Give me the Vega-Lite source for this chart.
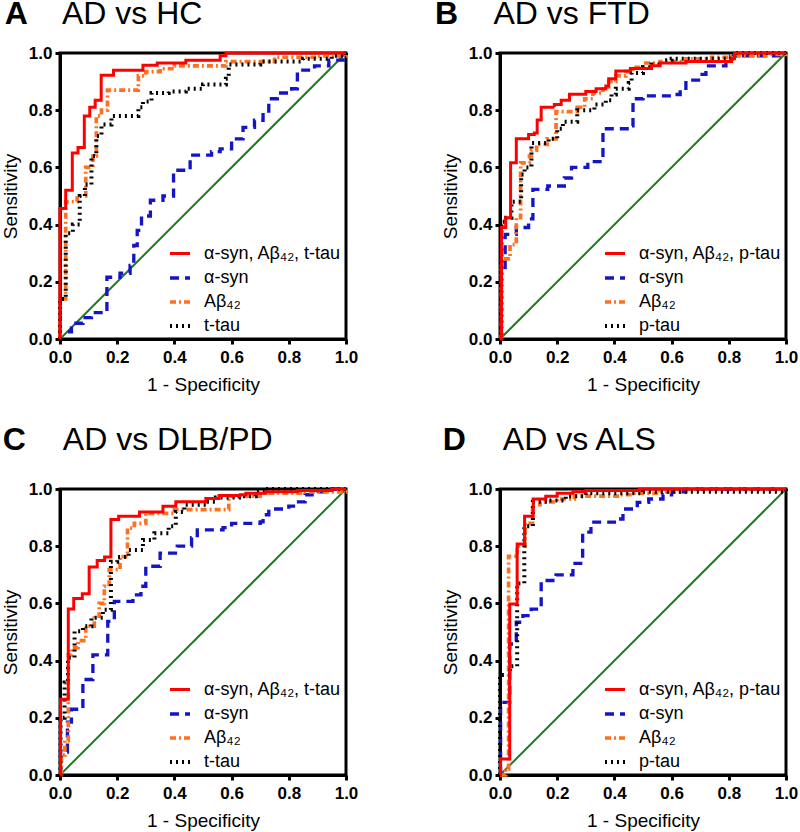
{
  "$schema": "https://vega.github.io/schema/vega-lite/v6.json",
  "padding": {"left": -1, "top": -4, "right": 0, "bottom": 0},
  "background": "white",
  "config": {
    "font": "Liberation Sans",
    "view": {"stroke": "black", "strokeWidth": 3},
    "axis": {
      "grid": false, "domainColor": "black", "domainWidth": 3,
      "tickColor": "black", "tickWidth": 3, "tickSize": 5,
      "labelFont": "Liberation Sans", "labelFontWeight": "bold", "labelFontSize": 17, "labelColor": "black",
      "labelPadding": 3, "labelFlush": false, "labelOverlap": false,
      "titleFont": "Liberation Sans", "titleFontWeight": "normal", "titleFontSize": 19, "titleColor": "black"
    },
    "axisX": {"titlePadding": 10, "labelPadding": 5},
    "axisY": {"titlePadding": 8},
    "legend": {
      "orient": "bottom-right", "offset": 4, "padding": 0, "rowPadding": 3,
      "labelFont": "Liberation Sans", "labelFontSize": 18, "labelColor": "black", "labelLimit": 300,
      "symbolType": "stroke", "symbolSize": 400, "labelOffset": 12
    },
    "text": {"font": "Liberation Sans", "fontSize": 32, "align": "left", "baseline": "top", "color": "black"}
  },
  "resolve": {
    "scale": {"color": "independent", "strokeDash": "independent", "strokeWidth": "independent", "x": "independent", "y": "independent"},
    "legend": {"color": "independent", "strokeDash": "independent", "strokeWidth": "independent"}
  },
  "columns": 2,
  "spacing": {"column": 154, "row": 150},
  "bounds": "flush",
  "concat": [
    {
      "width": 286, "height": 286,
      "layer": [
        {"data": {"values": [{}]}, "mark": {"type": "rule", "color": "#1e7d1e", "strokeWidth": 2},
         "encoding": {"x": {"datum": 0, "type": "quantitative", "title": "1 - Specificity"}, "y": {"datum": 0, "type": "quantitative", "title": "Sensitivity"}, "x2": {"datum": 1}, "y2": {"datum": 1}}},
        {"data": {"values": [
          {"s":"α-syn","x":0,"y":0},{"s":"α-syn","x":0,"y":0.025},{"s":"α-syn","x":0.04,"y":0.055},{"s":"α-syn","x":0.08,"y":0.075},{"s":"α-syn","x":0.11,"y":0.092},{"s":"α-syn","x":0.164,"y":0.216},{"s":"α-syn","x":0.21,"y":0.23},{"s":"α-syn","x":0.245,"y":0.257},{"s":"α-syn","x":0.258,"y":0.327},{"s":"α-syn","x":0.27,"y":0.38},{"s":"α-syn","x":0.285,"y":0.43},{"s":"α-syn","x":0.316,"y":0.485},{"s":"α-syn","x":0.36,"y":0.5},{"s":"α-syn","x":0.397,"y":0.59},{"s":"α-syn","x":0.455,"y":0.643},{"s":"α-syn","x":0.53,"y":0.655},{"s":"α-syn","x":0.56,"y":0.665},{"s":"α-syn","x":0.6,"y":0.7},{"s":"α-syn","x":0.64,"y":0.74},{"s":"α-syn","x":0.68,"y":0.765},{"s":"α-syn","x":0.71,"y":0.79},{"s":"α-syn","x":0.73,"y":0.84},{"s":"α-syn","x":0.76,"y":0.86},{"s":"α-syn","x":0.81,"y":0.875},{"s":"α-syn","x":0.83,"y":0.94},{"s":"α-syn","x":0.89,"y":0.955},{"s":"α-syn","x":0.94,"y":0.975},{"s":"α-syn","x":0.99,"y":1},{"s":"α-syn","x":1,"y":1},
          {"s":"Aβ₄₂","x":0,"y":0},{"s":"Aβ₄₂","x":0,"y":0.14},{"s":"Aβ₄₂","x":0.02,"y":0.48},{"s":"Aβ₄₂","x":0.06,"y":0.5},{"s":"Aβ₄₂","x":0.09,"y":0.6},{"s":"Aβ₄₂","x":0.115,"y":0.64},{"s":"Aβ₄₂","x":0.127,"y":0.78},{"s":"Aβ₄₂","x":0.145,"y":0.8},{"s":"Aβ₄₂","x":0.166,"y":0.87},{"s":"Aβ₄₂","x":0.274,"y":0.92},{"s":"Aβ₄₂","x":0.3,"y":0.935},{"s":"Aβ₄₂","x":0.35,"y":0.945},{"s":"Aβ₄₂","x":0.4,"y":0.955},{"s":"Aβ₄₂","x":0.58,"y":0.97},{"s":"Aβ₄₂","x":0.75,"y":0.985},{"s":"Aβ₄₂","x":0.9,"y":0.99},{"s":"Aβ₄₂","x":1,"y":1},
          {"s":"t-tau","x":0,"y":0},{"s":"t-tau","x":0,"y":0.14},{"s":"t-tau","x":0.02,"y":0.37},{"s":"t-tau","x":0.045,"y":0.4},{"s":"t-tau","x":0.069,"y":0.5},{"s":"t-tau","x":0.087,"y":0.54},{"s":"t-tau","x":0.11,"y":0.64},{"s":"t-tau","x":0.127,"y":0.71},{"s":"t-tau","x":0.145,"y":0.75},{"s":"t-tau","x":0.18,"y":0.78},{"s":"t-tau","x":0.274,"y":0.81},{"s":"t-tau","x":0.29,"y":0.83},{"s":"t-tau","x":0.32,"y":0.86},{"s":"t-tau","x":0.38,"y":0.865},{"s":"t-tau","x":0.44,"y":0.875},{"s":"t-tau","x":0.5,"y":0.89},{"s":"t-tau","x":0.58,"y":0.91},{"s":"t-tau","x":0.59,"y":0.96},{"s":"t-tau","x":0.7,"y":0.97},{"s":"t-tau","x":0.85,"y":0.98},{"s":"t-tau","x":0.95,"y":0.99},{"s":"t-tau","x":1,"y":1},
          {"s":"α-syn, Aβ₄₂, t-tau","x":0,"y":0},{"s":"α-syn, Aβ₄₂, t-tau","x":0,"y":0.456},{"s":"α-syn, Aβ₄₂, t-tau","x":0.02,"y":0.52},{"s":"α-syn, Aβ₄₂, t-tau","x":0.043,"y":0.65},{"s":"α-syn, Aβ₄₂, t-tau","x":0.063,"y":0.67},{"s":"α-syn, Aβ₄₂, t-tau","x":0.085,"y":0.78},{"s":"α-syn, Aβ₄₂, t-tau","x":0.104,"y":0.81},{"s":"α-syn, Aβ₄₂, t-tau","x":0.123,"y":0.835},{"s":"α-syn, Aβ₄₂, t-tau","x":0.144,"y":0.922},{"s":"α-syn, Aβ₄₂, t-tau","x":0.187,"y":0.94},{"s":"α-syn, Aβ₄₂, t-tau","x":0.29,"y":0.957},{"s":"α-syn, Aβ₄₂, t-tau","x":0.34,"y":0.965},{"s":"α-syn, Aβ₄₂, t-tau","x":0.44,"y":0.975},{"s":"α-syn, Aβ₄₂, t-tau","x":0.56,"y":0.99},{"s":"α-syn, Aβ₄₂, t-tau","x":0.58,"y":1},{"s":"α-syn, Aβ₄₂, t-tau","x":1,"y":1}
        ]},
         "mark": {"type": "line", "interpolate": "step-after"},
         "encoding": {
           "x": {"field": "x", "type": "quantitative", "title": "1 - Specificity", "scale": {"domain": [0, 1], "nice": false}, "axis": {"values": [0, 0.2, 0.4, 0.6, 0.8, 1], "format": ".1f"}},
           "y": {"field": "y", "type": "quantitative", "title": "Sensitivity", "scale": {"domain": [0, 1], "nice": false}, "axis": {"values": [0, 0.2, 0.4, 0.6, 0.8, 1], "format": ".1f"}},
           "order": [{"field": "x", "type": "quantitative"}, {"field": "y", "type": "quantitative"}],
           "color": {"field": "s", "type": "ordinal", "title": null, "scale": {"domain": ["α-syn, Aβ₄₂, t-tau", "α-syn", "Aβ₄₂", "t-tau"], "range": ["#ff0000", "#1515c8", "#ff7020", "#000000"]}},
           "strokeDash": {"field": "s", "type": "ordinal", "title": null, "scale": {"domain": ["α-syn, Aβ₄₂, t-tau", "α-syn", "Aβ₄₂", "t-tau"], "range": [[1, 0], [9, 6], [6, 3, 2, 3], [2, 4]]}},
           "strokeWidth": {"field": "s", "type": "ordinal", "title": null, "scale": {"domain": ["α-syn, Aβ₄₂, t-tau", "α-syn", "Aβ₄₂", "t-tau"], "range": [3, 4, 2, 2]}}
         }},
        {"data": {"values": [{}]}, "mark": {"type": "text", "text": "A", "fontWeight": "bold"},
         "encoding": {"x": {"datum": -0.193, "type": "quantitative", "title": "1 - Specificity"}, "y": {"datum": 1.1888, "type": "quantitative", "title": "Sensitivity"}}},
        {"data": {"values": [{}]}, "mark": {"type": "text", "text": "AD vs HC"},
         "encoding": {"x": {"datum": 0.007, "type": "quantitative", "title": "1 - Specificity"}, "y": {"datum": 1.1888, "type": "quantitative", "title": "Sensitivity"}}}
      ]
    },
    {
      "width": 286, "height": 286,
      "layer": [
        {"data": {"values": [{}]}, "mark": {"type": "rule", "color": "#1e7d1e", "strokeWidth": 2},
         "encoding": {"x": {"datum": 0, "type": "quantitative", "title": "1 - Specificity"}, "y": {"datum": 0, "type": "quantitative", "title": "Sensitivity"}, "x2": {"datum": 1}, "y2": {"datum": 1}}},
        {"data": {"values": [
          {"s":"α-syn","x":0,"y":0},{"s":"α-syn","x":0.003,"y":0.238},{"s":"α-syn","x":0.018,"y":0.366},{"s":"α-syn","x":0.057,"y":0.39},{"s":"α-syn","x":0.1,"y":0.42},{"s":"α-syn","x":0.115,"y":0.523},{"s":"α-syn","x":0.167,"y":0.535},{"s":"α-syn","x":0.225,"y":0.563},{"s":"α-syn","x":0.25,"y":0.6},{"s":"α-syn","x":0.307,"y":0.62},{"s":"α-syn","x":0.36,"y":0.735},{"s":"α-syn","x":0.457,"y":0.745},{"s":"α-syn","x":0.465,"y":0.84},{"s":"α-syn","x":0.5,"y":0.85},{"s":"α-syn","x":0.6,"y":0.855},{"s":"α-syn","x":0.63,"y":0.87},{"s":"α-syn","x":0.65,"y":0.905},{"s":"α-syn","x":0.7,"y":0.925},{"s":"α-syn","x":0.72,"y":0.955},{"s":"α-syn","x":0.79,"y":0.97},{"s":"α-syn","x":0.806,"y":0.99},{"s":"α-syn","x":1,"y":1},
          {"s":"Aβ₄₂","x":0,"y":0},{"s":"Aβ₄₂","x":0.005,"y":0.28},{"s":"Aβ₄₂","x":0.035,"y":0.33},{"s":"Aβ₄₂","x":0.057,"y":0.424},{"s":"Aβ₄₂","x":0.072,"y":0.616},{"s":"Aβ₄₂","x":0.103,"y":0.64},{"s":"Aβ₄₂","x":0.11,"y":0.66},{"s":"Aβ₄₂","x":0.128,"y":0.68},{"s":"Aβ₄₂","x":0.165,"y":0.7},{"s":"Aβ₄₂","x":0.196,"y":0.795},{"s":"Aβ₄₂","x":0.27,"y":0.81},{"s":"Aβ₄₂","x":0.296,"y":0.84},{"s":"Aβ₄₂","x":0.325,"y":0.86},{"s":"Aβ₄₂","x":0.36,"y":0.875},{"s":"Aβ₄₂","x":0.38,"y":0.9},{"s":"Aβ₄₂","x":0.405,"y":0.92},{"s":"Aβ₄₂","x":0.44,"y":0.935},{"s":"Aβ₄₂","x":0.465,"y":0.95},{"s":"Aβ₄₂","x":0.5,"y":0.965},{"s":"Aβ₄₂","x":0.56,"y":0.97},{"s":"Aβ₄₂","x":0.65,"y":0.98},{"s":"Aβ₄₂","x":0.74,"y":0.985},{"s":"Aβ₄₂","x":0.81,"y":0.99},{"s":"Aβ₄₂","x":0.93,"y":0.995},{"s":"Aβ₄₂","x":1,"y":1},
          {"s":"p-tau","x":0,"y":0},{"s":"p-tau","x":0.005,"y":0.41},{"s":"p-tau","x":0.022,"y":0.424},{"s":"p-tau","x":0.04,"y":0.48},{"s":"p-tau","x":0.074,"y":0.575},{"s":"p-tau","x":0.086,"y":0.6},{"s":"p-tau","x":0.11,"y":0.685},{"s":"p-tau","x":0.17,"y":0.7},{"s":"p-tau","x":0.2,"y":0.735},{"s":"p-tau","x":0.22,"y":0.76},{"s":"p-tau","x":0.27,"y":0.8},{"s":"p-tau","x":0.33,"y":0.82},{"s":"p-tau","x":0.37,"y":0.835},{"s":"p-tau","x":0.39,"y":0.855},{"s":"p-tau","x":0.405,"y":0.875},{"s":"p-tau","x":0.45,"y":0.895},{"s":"p-tau","x":0.46,"y":0.93},{"s":"p-tau","x":0.5,"y":0.95},{"s":"p-tau","x":0.53,"y":0.96},{"s":"p-tau","x":0.57,"y":0.975},{"s":"p-tau","x":0.6,"y":0.98},{"s":"p-tau","x":0.81,"y":0.99},{"s":"p-tau","x":0.82,"y":1},{"s":"p-tau","x":1,"y":1},
          {"s":"α-syn, Aβ₄₂, p-tau","x":0,"y":0},{"s":"α-syn, Aβ₄₂, p-tau","x":0.005,"y":0.39},{"s":"α-syn, Aβ₄₂, p-tau","x":0.02,"y":0.424},{"s":"α-syn, Aβ₄₂, p-tau","x":0.037,"y":0.616},{"s":"α-syn, Aβ₄₂, p-tau","x":0.057,"y":0.7},{"s":"α-syn, Aβ₄₂, p-tau","x":0.1,"y":0.715},{"s":"α-syn, Aβ₄₂, p-tau","x":0.12,"y":0.72},{"s":"α-syn, Aβ₄₂, p-tau","x":0.13,"y":0.766},{"s":"α-syn, Aβ₄₂, p-tau","x":0.144,"y":0.81},{"s":"α-syn, Aβ₄₂, p-tau","x":0.19,"y":0.82},{"s":"α-syn, Aβ₄₂, p-tau","x":0.214,"y":0.835},{"s":"α-syn, Aβ₄₂, p-tau","x":0.243,"y":0.856},{"s":"α-syn, Aβ₄₂, p-tau","x":0.3,"y":0.865},{"s":"α-syn, Aβ₄₂, p-tau","x":0.336,"y":0.875},{"s":"α-syn, Aβ₄₂, p-tau","x":0.37,"y":0.885},{"s":"α-syn, Aβ₄₂, p-tau","x":0.38,"y":0.91},{"s":"α-syn, Aβ₄₂, p-tau","x":0.405,"y":0.937},{"s":"α-syn, Aβ₄₂, p-tau","x":0.456,"y":0.946},{"s":"α-syn, Aβ₄₂, p-tau","x":0.53,"y":0.955},{"s":"α-syn, Aβ₄₂, p-tau","x":0.56,"y":0.965},{"s":"α-syn, Aβ₄₂, p-tau","x":0.65,"y":0.97},{"s":"α-syn, Aβ₄₂, p-tau","x":0.81,"y":0.98},{"s":"α-syn, Aβ₄₂, p-tau","x":0.82,"y":1},{"s":"α-syn, Aβ₄₂, p-tau","x":1,"y":1}
        ]},
         "mark": {"type": "line", "interpolate": "step-after"},
         "encoding": {
           "x": {"field": "x", "type": "quantitative", "title": "1 - Specificity", "scale": {"domain": [0, 1], "nice": false}, "axis": {"values": [0, 0.2, 0.4, 0.6, 0.8, 1], "format": ".1f"}},
           "y": {"field": "y", "type": "quantitative", "title": "Sensitivity", "scale": {"domain": [0, 1], "nice": false}, "axis": {"values": [0, 0.2, 0.4, 0.6, 0.8, 1], "format": ".1f"}},
           "order": [{"field": "x", "type": "quantitative"}, {"field": "y", "type": "quantitative"}],
           "color": {"field": "s", "type": "ordinal", "title": null, "scale": {"domain": ["α-syn, Aβ₄₂, p-tau", "α-syn", "Aβ₄₂", "p-tau"], "range": ["#ff0000", "#1515c8", "#ff7020", "#000000"]}},
           "strokeDash": {"field": "s", "type": "ordinal", "title": null, "scale": {"domain": ["α-syn, Aβ₄₂, p-tau", "α-syn", "Aβ₄₂", "p-tau"], "range": [[1, 0], [9, 6], [6, 3, 2, 3], [2, 4]]}},
           "strokeWidth": {"field": "s", "type": "ordinal", "title": null, "scale": {"domain": ["α-syn, Aβ₄₂, p-tau", "α-syn", "Aβ₄₂", "p-tau"], "range": [3, 4, 2, 2]}}
         }},
        {"data": {"values": [{}]}, "mark": {"type": "text", "text": "B", "fontWeight": "bold"},
         "encoding": {"x": {"datum": -0.227, "type": "quantitative", "title": "1 - Specificity"}, "y": {"datum": 1.1888, "type": "quantitative", "title": "Sensitivity"}}},
        {"data": {"values": [{}]}, "mark": {"type": "text", "text": "AD vs FTD"},
         "encoding": {"x": {"datum": -0.023, "type": "quantitative", "title": "1 - Specificity"}, "y": {"datum": 1.1888, "type": "quantitative", "title": "Sensitivity"}}}
      ]
    },
    {
      "width": 286, "height": 286,
      "layer": [
        {"data": {"values": [{}]}, "mark": {"type": "rule", "color": "#1e7d1e", "strokeWidth": 2},
         "encoding": {"x": {"datum": 0, "type": "quantitative", "title": "1 - Specificity"}, "y": {"datum": 0, "type": "quantitative", "title": "Sensitivity"}, "x2": {"datum": 1}, "y2": {"datum": 1}}},
        {"data": {"values": [
          {"s":"α-syn","x":0,"y":0},{"s":"α-syn","x":0.002,"y":0.08},{"s":"α-syn","x":0.026,"y":0.185},{"s":"α-syn","x":0.04,"y":0.23},{"s":"α-syn","x":0.08,"y":0.334},{"s":"α-syn","x":0.115,"y":0.42},{"s":"α-syn","x":0.167,"y":0.537},{"s":"α-syn","x":0.19,"y":0.607},{"s":"α-syn","x":0.255,"y":0.63},{"s":"α-syn","x":0.283,"y":0.66},{"s":"α-syn","x":0.3,"y":0.73},{"s":"α-syn","x":0.35,"y":0.776},{"s":"α-syn","x":0.41,"y":0.8},{"s":"α-syn","x":0.46,"y":0.83},{"s":"α-syn","x":0.48,"y":0.857},{"s":"α-syn","x":0.57,"y":0.865},{"s":"α-syn","x":0.6,"y":0.88},{"s":"α-syn","x":0.7,"y":0.885},{"s":"α-syn","x":0.71,"y":0.91},{"s":"α-syn","x":0.73,"y":0.93},{"s":"α-syn","x":0.8,"y":0.94},{"s":"α-syn","x":0.834,"y":0.955},{"s":"α-syn","x":0.857,"y":0.98},{"s":"α-syn","x":0.9,"y":0.99},{"s":"α-syn","x":0.95,"y":1},{"s":"α-syn","x":1,"y":1},
          {"s":"Aβ₄₂","x":0,"y":0},{"s":"Aβ₄₂","x":0.005,"y":0.07},{"s":"Aβ₄₂","x":0.017,"y":0.12},{"s":"Aβ₄₂","x":0.029,"y":0.42},{"s":"Aβ₄₂","x":0.04,"y":0.445},{"s":"Aβ₄₂","x":0.063,"y":0.47},{"s":"Aβ₄₂","x":0.09,"y":0.52},{"s":"Aβ₄₂","x":0.12,"y":0.555},{"s":"Aβ₄₂","x":0.137,"y":0.6},{"s":"Aβ₄₂","x":0.155,"y":0.66},{"s":"Aβ₄₂","x":0.172,"y":0.718},{"s":"Aβ₄₂","x":0.21,"y":0.764},{"s":"Aβ₄₂","x":0.236,"y":0.863},{"s":"Aβ₄₂","x":0.26,"y":0.88},{"s":"Aβ₄₂","x":0.3,"y":0.915},{"s":"Aβ₄₂","x":0.4,"y":0.928},{"s":"Aβ₄₂","x":0.59,"y":0.975},{"s":"Aβ₄₂","x":0.7,"y":0.985},{"s":"Aβ₄₂","x":0.85,"y":0.99},{"s":"Aβ₄₂","x":1,"y":1},
          {"s":"t-tau","x":0,"y":0},{"s":"t-tau","x":0.002,"y":0.2},{"s":"t-tau","x":0.016,"y":0.323},{"s":"t-tau","x":0.028,"y":0.41},{"s":"t-tau","x":0.051,"y":0.503},{"s":"t-tau","x":0.08,"y":0.52},{"s":"t-tau","x":0.11,"y":0.55},{"s":"t-tau","x":0.15,"y":0.578},{"s":"t-tau","x":0.178,"y":0.746},{"s":"t-tau","x":0.2,"y":0.762},{"s":"t-tau","x":0.24,"y":0.787},{"s":"t-tau","x":0.29,"y":0.822},{"s":"t-tau","x":0.33,"y":0.845},{"s":"t-tau","x":0.38,"y":0.87},{"s":"t-tau","x":0.405,"y":0.92},{"s":"t-tau","x":0.435,"y":0.945},{"s":"t-tau","x":0.51,"y":0.955},{"s":"t-tau","x":0.545,"y":0.97},{"s":"t-tau","x":0.626,"y":0.975},{"s":"t-tau","x":0.684,"y":0.99},{"s":"t-tau","x":0.72,"y":1},{"s":"t-tau","x":1,"y":1},
          {"s":"α-syn, Aβ₄₂, t-tau","x":0,"y":0},{"s":"α-syn, Aβ₄₂, t-tau","x":0.002,"y":0.265},{"s":"α-syn, Aβ₄₂, t-tau","x":0.029,"y":0.58},{"s":"α-syn, Aβ₄₂, t-tau","x":0.048,"y":0.617},{"s":"α-syn, Aβ₄₂, t-tau","x":0.078,"y":0.634},{"s":"α-syn, Aβ₄₂, t-tau","x":0.102,"y":0.727},{"s":"α-syn, Aβ₄₂, t-tau","x":0.13,"y":0.75},{"s":"α-syn, Aβ₄₂, t-tau","x":0.156,"y":0.762},{"s":"α-syn, Aβ₄₂, t-tau","x":0.178,"y":0.893},{"s":"α-syn, Aβ₄₂, t-tau","x":0.205,"y":0.905},{"s":"α-syn, Aβ₄₂, t-tau","x":0.278,"y":0.92},{"s":"α-syn, Aβ₄₂, t-tau","x":0.36,"y":0.94},{"s":"α-syn, Aβ₄₂, t-tau","x":0.405,"y":0.955},{"s":"α-syn, Aβ₄₂, t-tau","x":0.51,"y":0.967},{"s":"α-syn, Aβ₄₂, t-tau","x":0.556,"y":0.977},{"s":"α-syn, Aβ₄₂, t-tau","x":0.63,"y":0.98},{"s":"α-syn, Aβ₄₂, t-tau","x":0.65,"y":0.985},{"s":"α-syn, Aβ₄₂, t-tau","x":0.72,"y":0.99},{"s":"α-syn, Aβ₄₂, t-tau","x":0.83,"y":0.995},{"s":"α-syn, Aβ₄₂, t-tau","x":0.95,"y":1},{"s":"α-syn, Aβ₄₂, t-tau","x":1,"y":1}
        ]},
         "mark": {"type": "line", "interpolate": "step-after"},
         "encoding": {
           "x": {"field": "x", "type": "quantitative", "title": "1 - Specificity", "scale": {"domain": [0, 1], "nice": false}, "axis": {"values": [0, 0.2, 0.4, 0.6, 0.8, 1], "format": ".1f"}},
           "y": {"field": "y", "type": "quantitative", "title": "Sensitivity", "scale": {"domain": [0, 1], "nice": false}, "axis": {"values": [0, 0.2, 0.4, 0.6, 0.8, 1], "format": ".1f"}},
           "order": [{"field": "x", "type": "quantitative"}, {"field": "y", "type": "quantitative"}],
           "color": {"field": "s", "type": "ordinal", "title": null, "scale": {"domain": ["α-syn, Aβ₄₂, t-tau", "α-syn", "Aβ₄₂", "t-tau"], "range": ["#ff0000", "#1515c8", "#ff7020", "#000000"]}},
           "strokeDash": {"field": "s", "type": "ordinal", "title": null, "scale": {"domain": ["α-syn, Aβ₄₂, t-tau", "α-syn", "Aβ₄₂", "t-tau"], "range": [[1, 0], [9, 6], [6, 3, 2, 3], [2, 4]]}},
           "strokeWidth": {"field": "s", "type": "ordinal", "title": null, "scale": {"domain": ["α-syn, Aβ₄₂, t-tau", "α-syn", "Aβ₄₂", "t-tau"], "range": [3, 4, 2, 2]}}
         }},
        {"data": {"values": [{}]}, "mark": {"type": "text", "text": "C", "fontWeight": "bold"},
         "encoding": {"x": {"datum": -0.2, "type": "quantitative", "title": "1 - Specificity"}, "y": {"datum": 1.223, "type": "quantitative", "title": "Sensitivity"}}},
        {"data": {"values": [{}]}, "mark": {"type": "text", "text": "AD vs DLB/PD"},
         "encoding": {"x": {"datum": 0.01, "type": "quantitative", "title": "1 - Specificity"}, "y": {"datum": 1.223, "type": "quantitative", "title": "Sensitivity"}}}
      ]
    },
    {
      "width": 286, "height": 286,
      "layer": [
        {"data": {"values": [{}]}, "mark": {"type": "rule", "color": "#1e7d1e", "strokeWidth": 2},
         "encoding": {"x": {"datum": 0, "type": "quantitative", "title": "1 - Specificity"}, "y": {"datum": 0, "type": "quantitative", "title": "Sensitivity"}, "x2": {"datum": 1}, "y2": {"datum": 1}}},
        {"data": {"values": [
          {"s":"α-syn","x":0,"y":0},{"s":"α-syn","x":0.002,"y":0.254},{"s":"α-syn","x":0.034,"y":0.458},{"s":"α-syn","x":0.057,"y":0.534},{"s":"α-syn","x":0.08,"y":0.557},{"s":"α-syn","x":0.109,"y":0.58},{"s":"α-syn","x":0.144,"y":0.68},{"s":"α-syn","x":0.196,"y":0.7},{"s":"α-syn","x":0.255,"y":0.74},{"s":"α-syn","x":0.289,"y":0.849},{"s":"α-syn","x":0.318,"y":0.884},{"s":"α-syn","x":0.4,"y":0.895},{"s":"α-syn","x":0.43,"y":0.93},{"s":"α-syn","x":0.48,"y":0.953},{"s":"α-syn","x":0.52,"y":0.965},{"s":"α-syn","x":0.57,"y":0.98},{"s":"α-syn","x":0.6,"y":0.99},{"s":"α-syn","x":0.65,"y":1},{"s":"α-syn","x":1,"y":1},
          {"s":"Aβ₄₂","x":0,"y":0},{"s":"Aβ₄₂","x":0.02,"y":0.02},{"s":"Aβ₄₂","x":0.03,"y":0.765},{"s":"Aβ₄₂","x":0.06,"y":0.8},{"s":"Aβ₄₂","x":0.088,"y":0.88},{"s":"Aβ₄₂","x":0.114,"y":0.945},{"s":"Aβ₄₂","x":0.14,"y":0.955},{"s":"Aβ₄₂","x":0.2,"y":0.965},{"s":"Aβ₄₂","x":0.26,"y":0.975},{"s":"Aβ₄₂","x":0.42,"y":0.98},{"s":"Aβ₄₂","x":0.47,"y":0.985},{"s":"Aβ₄₂","x":0.56,"y":0.99},{"s":"Aβ₄₂","x":0.63,"y":1},{"s":"Aβ₄₂","x":1,"y":1},
          {"s":"p-tau","x":0,"y":0},{"s":"p-tau","x":0,"y":0.35},{"s":"p-tau","x":0.035,"y":0.38},{"s":"p-tau","x":0.06,"y":0.67},{"s":"p-tau","x":0.085,"y":0.87},{"s":"p-tau","x":0.115,"y":0.955},{"s":"p-tau","x":0.17,"y":0.96},{"s":"p-tau","x":0.23,"y":0.975},{"s":"p-tau","x":0.3,"y":0.985},{"s":"p-tau","x":0.5,"y":0.99},{"s":"p-tau","x":1,"y":1},
          {"s":"α-syn, Aβ₄₂, p-tau","x":0,"y":0},{"s":"α-syn, Aβ₄₂, p-tau","x":0.002,"y":0.056},{"s":"α-syn, Aβ₄₂, p-tau","x":0.034,"y":0.598},{"s":"α-syn, Aβ₄₂, p-tau","x":0.06,"y":0.808},{"s":"α-syn, Aβ₄₂, p-tau","x":0.086,"y":0.905},{"s":"α-syn, Aβ₄₂, p-tau","x":0.116,"y":0.965},{"s":"α-syn, Aβ₄₂, p-tau","x":0.16,"y":0.975},{"s":"α-syn, Aβ₄₂, p-tau","x":0.2,"y":0.985},{"s":"α-syn, Aβ₄₂, p-tau","x":0.255,"y":0.99},{"s":"α-syn, Aβ₄₂, p-tau","x":0.3,"y":0.995},{"s":"α-syn, Aβ₄₂, p-tau","x":0.487,"y":1},{"s":"α-syn, Aβ₄₂, p-tau","x":1,"y":1}
        ]},
         "mark": {"type": "line", "interpolate": "step-after"},
         "encoding": {
           "x": {"field": "x", "type": "quantitative", "title": "1 - Specificity", "scale": {"domain": [0, 1], "nice": false}, "axis": {"values": [0, 0.2, 0.4, 0.6, 0.8, 1], "format": ".1f"}},
           "y": {"field": "y", "type": "quantitative", "title": "Sensitivity", "scale": {"domain": [0, 1], "nice": false}, "axis": {"values": [0, 0.2, 0.4, 0.6, 0.8, 1], "format": ".1f"}},
           "order": [{"field": "x", "type": "quantitative"}, {"field": "y", "type": "quantitative"}],
           "color": {"field": "s", "type": "ordinal", "title": null, "scale": {"domain": ["α-syn, Aβ₄₂, p-tau", "α-syn", "Aβ₄₂", "p-tau"], "range": ["#ff0000", "#1515c8", "#ff7020", "#000000"]}},
           "strokeDash": {"field": "s", "type": "ordinal", "title": null, "scale": {"domain": ["α-syn, Aβ₄₂, p-tau", "α-syn", "Aβ₄₂", "p-tau"], "range": [[1, 0], [9, 6], [6, 3, 2, 3], [2, 4]]}},
           "strokeWidth": {"field": "s", "type": "ordinal", "title": null, "scale": {"domain": ["α-syn, Aβ₄₂, p-tau", "α-syn", "Aβ₄₂", "p-tau"], "range": [3, 4, 2, 2]}}
         }},
        {"data": {"values": [{}]}, "mark": {"type": "text", "text": "D", "fontWeight": "bold"},
         "encoding": {"x": {"datum": -0.2, "type": "quantitative", "title": "1 - Specificity"}, "y": {"datum": 1.225, "type": "quantitative", "title": "Sensitivity"}}},
        {"data": {"values": [{}]}, "mark": {"type": "text", "text": "AD vs ALS"},
         "encoding": {"x": {"datum": 0.01, "type": "quantitative", "title": "1 - Specificity"}, "y": {"datum": 1.225, "type": "quantitative", "title": "Sensitivity"}}}
      ]
    }
  ]
}
